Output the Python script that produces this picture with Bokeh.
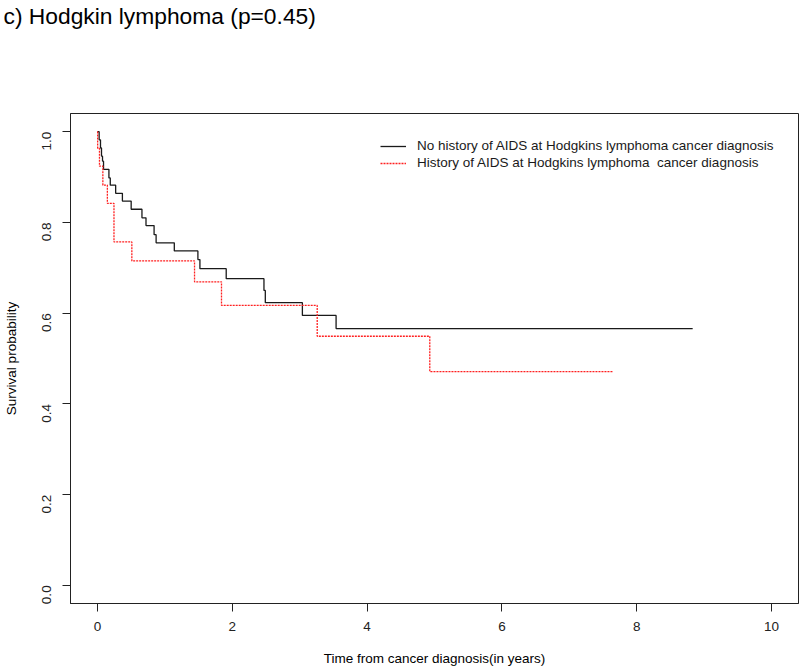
import math
from bokeh.plotting import figure
from bokeh.models import Range1d, FixedTicker, PrintfTickFormatter, Legend, LegendItem, Title
from bokeh.embed import file_html
from bokeh.resources import INLINE

# Kaplan-Meier step data
no_aids_time = [0, 0.025, 0.045, 0.06, 0.075, 0.09, 0.17, 0.19, 0.27, 0.37, 0.5, 0.66, 0.72,
                0.84, 0.87, 1.14, 1.49, 1.52, 1.91, 2.47, 2.49, 3.04, 3.54, 8.83]
no_aids_surv = [1.0, 0.982, 0.964, 0.946, 0.935, 0.917, 0.898, 0.882, 0.864, 0.847, 0.829, 0.810, 0.793,
                0.773, 0.755, 0.737, 0.718, 0.698, 0.676, 0.650, 0.623, 0.595, 0.566, 0.566]

aids_time = [0, 0.003, 0.03, 0.08, 0.147, 0.245, 0.51, 1.44, 1.84, 3.26, 4.93, 7.64]
aids_surv = [1.0, 0.963, 0.924, 0.882, 0.842, 0.757, 0.715, 0.669, 0.617, 0.549, 0.471, 0.471]

x_ticks = [0, 2, 4, 6, 8, 10]
y_ticks = [0.0, 0.2, 0.4, 0.6, 0.8, 1.0]

title_text = "c) Hodgkin lymphoma (p=0.45)"
label_no_aids = "No history of AIDS at Hodgkins lymphoma cancer diagnosis"
label_aids = "History of AIDS at Hodgkins lymphoma  cancer diagnosis"

FONT = "Liberation Sans"
W, H = 800, 668
BL, BR, BT, BB = 67, 2, 113, 64
frame_h = H - BT - BB

p = figure(width=W, height=H, output_backend="svg", toolbar_location=None,
           x_range=Range1d(-0.4, 10.4), y_range=Range1d(-0.04, 1.04),
           min_border_left=BL, min_border_right=BR, min_border_top=BT, min_border_bottom=BB)
p.title = None

# spacer (closest to the frame), then the real title on top of it
spacer = Title(text=" ", text_font_size="1px", standoff=80)
p.add_layout(spacer, "above")
title = Title(text=title_text, text_font=FONT, text_font_size="22.8px", text_font_style="normal",
              text_color="black", align="left", vertical_align="top", standoff=0, offset=-BL)
p.add_layout(title, "above")

p.xgrid.visible = False
p.ygrid.visible = False
p.outline_line_color = "#222222"
p.outline_line_width = 1
p.background_fill_color = "white"
p.border_fill_color = "white"

for ax in (p.xaxis[0], p.yaxis[0]):
    ax.axis_line_color = "#222222"
    ax.major_tick_line_color = "#222222"
    ax.minor_tick_line_color = None
    ax.major_tick_in = 0
    ax.major_tick_out = 8
    ax.major_label_text_font = FONT
    ax.major_label_text_font_size = "13.5px"
    ax.major_label_text_color = "#222222"
    ax.axis_label_text_font = FONT
    ax.axis_label_text_font_size = "13.5px"
    ax.axis_label_text_font_style = "normal"
    ax.axis_label_text_color = "black"

p.xaxis.ticker = FixedTicker(ticks=x_ticks)
p.yaxis.ticker = FixedTicker(ticks=y_ticks)
p.yaxis.formatter = PrintfTickFormatter(format="%.1f")
p.yaxis.major_label_orientation = math.pi / 2
p.xaxis.axis_label = "Time from cancer diagnosis(in years)"
p.yaxis.axis_label = "Survival probability"
p.xaxis.major_label_standoff = 10
p.xaxis.axis_label_standoff = 17
p.yaxis.major_label_standoff = 16
p.yaxis.axis_label_standoff = 16

r1 = p.step(no_aids_time, no_aids_surv, mode="after", line_color="#1a1a1a", line_width=1.3)
r2 = p.step(aids_time, aids_surv, mode="after", line_color="#ff2020", line_width=1.3,
            line_dash="2 1")

legend = Legend(items=[LegendItem(label=label_no_aids, renderers=[r1]),
                       LegendItem(label=label_aids, renderers=[r2])],
                location=(310, frame_h - 28 - 30), orientation="vertical",
                glyph_width=26, glyph_height=14, label_height=14, label_standoff=11,
                spacing=2, padding=0, margin=0,
                label_text_font=FONT, label_text_font_size="13.5px", label_text_color="#1a1a1a",
                border_line_color=None, background_fill_alpha=0)
p.add_layout(legend, "center")

open("out.html", "w").write(file_html(p, INLINE))
